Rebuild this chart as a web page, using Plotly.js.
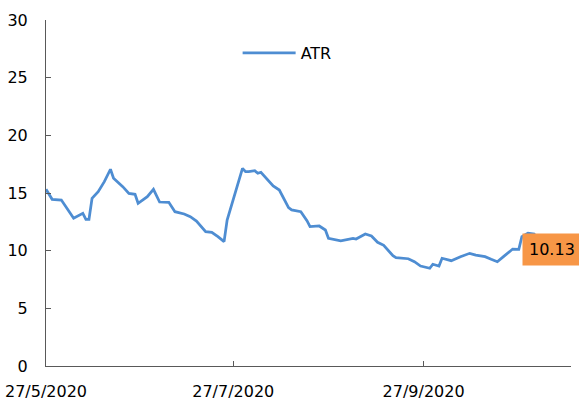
<!DOCTYPE html>
<html>
<head>
<meta charset="utf-8">
<script src="https://cdn.plot.ly/plotly-3.0.1.min.js"></script>
<style>html,body{margin:0;padding:0;background:#fff;}#chart{width:579px;height:405px;}</style>
</head>
<body>
<div id="chart"></div>
<script>
const dates = ["2020-05-27","2020-05-29","2020-06-01","2020-06-05","2020-06-08","2020-06-09","2020-06-10","2020-06-11","2020-06-13","2020-06-15","2020-06-17","2020-06-18","2020-06-21","2020-06-23","2020-06-25","2020-06-26","2020-06-29","2020-07-01","2020-07-03","2020-07-06","2020-07-08","2020-07-11","2020-07-13","2020-07-15","2020-07-18","2020-07-20","2020-07-22","2020-07-24","2020-07-25","2020-07-27","2020-07-29","2020-07-30","2020-07-31","2020-08-01","2020-08-03","2020-08-04","2020-08-05","2020-08-08","2020-08-09","2020-08-11","2020-08-14","2020-08-15","2020-08-18","2020-08-20","2020-08-21","2020-08-24","2020-08-26","2020-08-27","2020-08-31","2020-09-04","2020-09-05","2020-09-08","2020-09-10","2020-09-12","2020-09-14","2020-09-17","2020-09-18","2020-09-22","2020-09-24","2020-09-26","2020-09-29","2020-09-30","2020-10-01","2020-10-02","2020-10-03","2020-10-06","2020-10-09","2020-10-12","2020-10-14","2020-10-17","2020-10-19","2020-10-21","2020-10-23","2020-10-26","2020-10-28","2020-10-29","2020-10-31","2020-11-02","2020-11-05"];
const atr = [15.32,14.45,14.39,12.81,13.24,12.72,12.72,14.54,15.11,15.98,17.06,16.28,15.55,14.97,14.89,14.11,14.68,15.32,14.22,14.19,13.38,13.18,12.95,12.57,11.65,11.59,11.21,10.78,12.66,14.39,16.13,17.14,16.85,16.85,16.93,16.71,16.80,15.84,15.61,15.26,13.73,13.53,13.38,12.60,12.08,12.14,11.79,11.07,10.86,11.07,11.01,11.45,11.27,10.73,10.47,9.56,9.39,9.30,9.04,8.67,8.47,8.82,8.76,8.67,9.34,9.13,9.48,9.77,9.62,9.48,9.25,9.04,9.48,10.14,10.12,11.21,11.51,11.45,10.13];
const seriesName = "ATR";
const xTickVals = ["2020-05-27","2020-07-27","2020-09-27"];
const xTickText = ["27/5/2020","27/7/2020","27/9/2020"];
const xRange = ["2020-05-27","2020-11-14"];
const yTickVals = [0,5,10,15,20,25,30];

const lastIdx = atr.length - 1;
const font = {family: "DejaVu Sans", size: 16, color: "#000000"};

const trace = {
  x: dates, y: atr, type: "scatter", mode: "lines", name: seriesName,
  line: {color: "#4E8DD2", width: 2.75}
};

const layout = {
  width: 579, height: 405,
  margin: {l: 46, r: 8, t: 20, b: 39},
  paper_bgcolor: "#ffffff", plot_bgcolor: "#ffffff",
  font: font,
  showlegend: true,
  legend: {orientation: "h", x: 0.365, xanchor: "left", y: 0.905, yanchor: "middle",
           font: font, bgcolor: "rgba(0,0,0,0)", itemwidth: 53},
  xaxis: {
    type: "date", range: xRange, tickvals: xTickVals, ticktext: xTickText,
    ticks: "inside", ticklen: 5, tickcolor: "#595959", showline: true, linecolor: "#595959", linewidth: 1,
    showgrid: false, zeroline: false, tickfont: font, ticklabelstandoff: 11
  },
  yaxis: {
    range: [0, 30], tickvals: yTickVals, ticks: "inside", ticklen: 5, tickcolor: "#595959",
    showline: true, linecolor: "#595959", linewidth: 1, showgrid: false, zeroline: false,
    tickfont: font, ticklabelstandoff: 14
  },
  annotations: [{
    x: dates[lastIdx], y: atr[lastIdx], xref: "x", yref: "y",
    text: atr[lastIdx].toFixed(2), showarrow: false, xanchor: "center", yanchor: "middle",
    xshift: 9, bgcolor: "#F79646", borderpad: 6, font: font
  }]
};

Plotly.newPlot("chart", [trace], layout, {displayModeBar: false, staticPlot: true});
</script>
</body>
</html>
